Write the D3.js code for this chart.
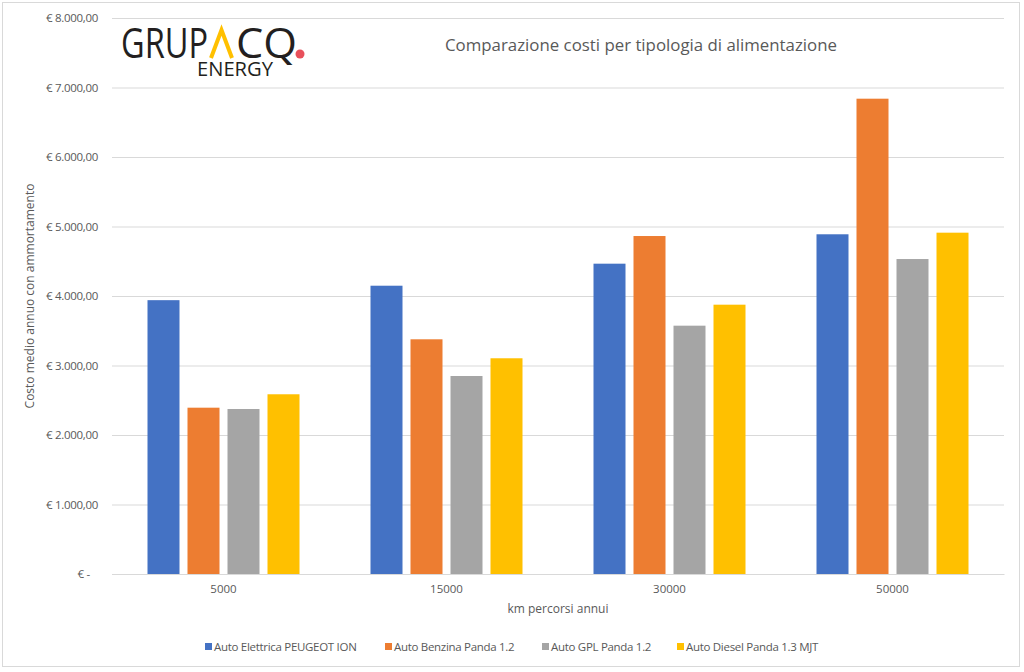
<!DOCTYPE html>
<html><head><meta charset="utf-8">
<script src="https://cdn.jsdelivr.net/npm/d3@7"></script>
<style>
html,body{margin:0;padding:0;background:#fff;}
svg{display:block;font-family:"Open Sans",sans-serif;}
</style></head>
<body><svg id="c" width="1024" height="672"></svg>
<script>
const categories = ["5000","15000","30000","50000"];
const seriesNames = ["Auto Elettrica PEUGEOT ION","Auto Benzina Panda 1.2","Auto GPL Panda 1.2","Auto Diesel Panda 1.3 MJT"];
const elettrica = [3940,4148,4465,4888];
const benzina = [2393,3377,4863,6839];
const gpl = [2374,2849,3573,4532];
const diesel = [2586,3104,3875,4911];
const yTicks = [0,1000,2000,3000,4000,5000,6000,7000,8000];
const colors = ["#4472C4","#ED7D31","#A5A5A5","#FFC000"];
const title = "Comparazione costi per tipologia di alimentazione";
const yTitle = "Costo medio annuo con ammortamento";
const xTitle = "km percorsi annui";

const series = [elettrica,benzina,gpl,diesel];
const svg = d3.select("#c");
const txt = "#595959";

// outer frame
svg.append("rect").attr("x",2.5).attr("y",2.5).attr("width",1017).attr("height",664)
  .attr("fill","#fff").attr("stroke","#d9d9d9").attr("stroke-width",1);

const pL=112,pR=1004,pT=18,pB=574;
const y = d3.scaleLinear().domain([0,8000]).range([pB,pT]);
const x0 = d3.scaleBand().domain(categories).range([pL,pR]).padding(0);
const x1 = d3.scaleBand().domain(d3.range(4)).range([35.5,x0.bandwidth()-35.5]).paddingInner(0.2).paddingOuter(0);

const fmt = v => v===0 ? "€ -   " : "€ " + d3.format(",.2f")(v).replace(/,/g,"#").replace(/\./g,",").replace(/#/g,".");

// grid
const yAxis = d3.axisLeft(y).tickValues(yTicks).tickSize(-(pR-pL)).tickFormat(fmt).tickPadding(14);
const ga = svg.append("g").attr("transform",`translate(${pL},0)`).call(yAxis);
ga.select(".domain").remove();
ga.selectAll(".tick line").attr("stroke","#d9d9d9").attr("stroke-width",1);
ga.selectAll(".tick text").attr("fill",txt).attr("font-size",11.5).attr("font-family","Open Sans")
  .style("letter-spacing","-0.3px").style("white-space","pre");

// bars
const g = svg.append("g");
categories.forEach((c,i)=>{
  series.forEach((s,j)=>{
    g.append("rect").attr("x",x0(c)+x1(j)).attr("width",x1.bandwidth())
      .attr("y",y(s[i])).attr("height",y(0)-y(s[i])).attr("fill",colors[j]);
  });
});

// x axis
const xAxis = d3.axisBottom(x0).tickSize(0).tickPadding(11);
const gx = svg.append("g").attr("transform",`translate(0,${pB})`).call(xAxis);
gx.select(".domain").attr("stroke","#d9d9d9");
gx.selectAll(".tick text").attr("fill",txt).attr("font-size",11.5).attr("font-family","Open Sans");

// axis titles
svg.append("text").attr("x",(pL+pR)/2).attr("y",613).attr("text-anchor","middle")
  .attr("fill",txt).attr("font-size",12).text(xTitle);
svg.append("text").attr("transform","translate(34,296) rotate(-90)").attr("text-anchor","middle")
  .attr("fill",txt).attr("font-size",12).text(yTitle);

// title
svg.append("text").attr("x",641).attr("y",51).attr("text-anchor","middle")
  .attr("fill",txt).attr("font-size",15.5).attr("textLength",392).attr("lengthAdjust","spacingAndGlyphs").text(title);

// legend
const legX = [205,385,542,677];
seriesNames.forEach((n,j)=>{
  svg.append("rect").attr("x",legX[j]).attr("y",643).attr("width",7).attr("height",7).attr("fill",colors[j]);
  svg.append("text").attr("x",legX[j]+9).attr("y",650.5).attr("fill",txt).attr("font-size",11.5)
    .style("letter-spacing","-0.3px").text(n);
});

// logo
const lg = svg.append("g");
const lt = lg.append("text").attr("fill","#231f20").attr("font-family","Open Sans");
lt.append("tspan").attr("x",121).attr("y",58).attr("font-size",42).style("font-weight",500)
  .attr("textLength",87).attr("lengthAdjust","spacingAndGlyphs").text("GRUP");
lt.append("tspan").attr("x",236).attr("y",58).attr("font-size",42).style("font-weight",500)
  .attr("textLength",61).attr("lengthAdjust","spacingAndGlyphs").text("CQ");
lt.append("tspan").attr("x",197).attr("y",75.5).attr("font-size",19.5).style("font-weight",500)
  .attr("textLength",76).attr("lengthAdjust","spacingAndGlyphs").text("ENERGY");
lg.append("polyline").attr("points","211,58 221.5,30 232,58").attr("fill","none")
  .attr("stroke","#FFC000").attr("stroke-width",4).attr("stroke-linejoin","miter");
lg.append("circle").attr("cx",300).attr("cy",54).attr("r",4.5).attr("fill","#E8505B");
</script></body></html>
